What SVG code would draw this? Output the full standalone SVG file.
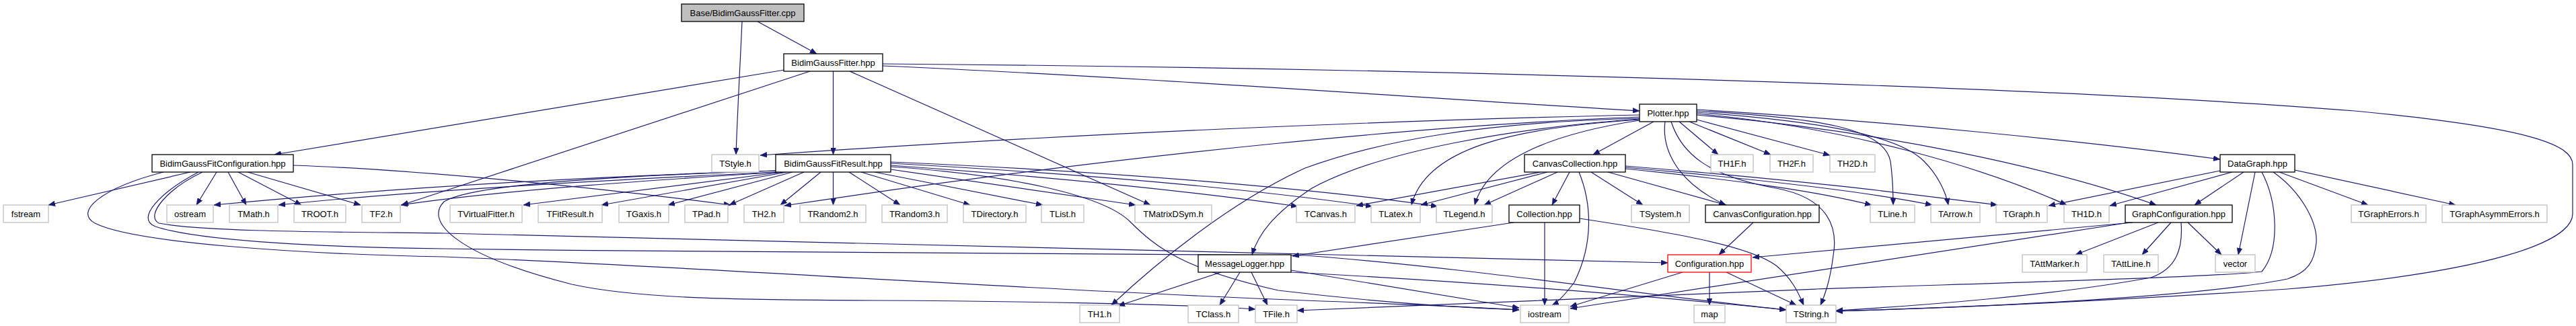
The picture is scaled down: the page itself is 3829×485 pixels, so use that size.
<svg xmlns="http://www.w3.org/2000/svg" width="3829" height="485" viewBox="0 0 3829 485">
<style>
text{font-family:"Liberation Sans",Arial,sans-serif;font-size:13px;fill:#000;text-anchor:middle}
rect.h{fill:#fff;stroke:#000;stroke-width:1.3}
rect.x{fill:#fff;stroke:#bfbfbf;stroke-width:1.3}
rect.r{fill:#fff;stroke:#f00;stroke-width:1.3}
rect.s{fill:#bfbfbf;stroke:#000;stroke-width:1.3}
#edges path{fill:none;stroke:#191970;stroke-width:1.2;marker-end:url(#ah)}
</style>
<defs>
<marker id="ah" viewBox="0 0 10 8" markerWidth="10" markerHeight="8" refX="10" refY="4" orient="auto" markerUnits="userSpaceOnUse">
<path d="M0,0 L10,4 L0,8 Z" fill="#191970" stroke="#191970" stroke-width="0.5"/>
</marker>
</defs>
<rect width="3829" height="485" fill="#fff"/>
<g id="edges">
<path d="M1126,32 L1214,80"/>
<path d="M1103,32 C1100,100 1096,170 1094,230"/>
<path d="M1166,104 L408,230"/>
<path d="M1204,106 L597,305"/>
<path d="M1238.5,106 L1238.5,230"/>
<path d="M1263,106 L1710,305"/>
<path d="M1312,98 C1700,115 2100,145 2437,165"/>
<path d="M1312,95 C2000,100 3000,125 3500,165 C3760,190 3824,215 3824,245 L3824,318 C3824,360 3700,405 3400,430 C3100,450 2900,458 2729,463"/>
<path d="M283,256 L72,305"/>
<path d="M322,256 L292,305"/>
<path d="M339,256 L366,305"/>
<path d="M354,256 L448,305"/>
<path d="M368,256 L536,305"/>
<path d="M436,246 C560,250 800,268 1086,305"/>
<path d="M243,256 C150,280 110,315 141,332 C200,362 450,378 660,382 C1000,395 1500,430 1940,447 C2100,453 2200,457 2258,461"/>
<path d="M301,256 C250,280 215,320 236,332 C300,345 500,345 660,347 C1200,360 1800,372 2479,391"/>
<path d="M295,256 C240,285 200,325 231,337 C300,360 500,368 660,370 C1200,378 1800,375 1940,380 C2200,400 2450,440 2655,461"/>
<path d="M1153,254 C900,262 600,278 318,305"/>
<path d="M1155,256 C900,268 600,285 414,305"/>
<path d="M1160,256 C1000,266 750,282 596,305"/>
<path d="M1164,256 L778,305"/>
<path d="M1170,256 L894,305"/>
<path d="M1178,256 L993,305"/>
<path d="M1195,256 L1084,305"/>
<path d="M1220,256 L1160,305"/>
<path d="M1238.5,256 L1238.5,305"/>
<path d="M1262,256 L1338,305"/>
<path d="M1280,256 L1442,305"/>
<path d="M1300,256 L1550,305"/>
<path d="M1324,252 L1688,305"/>
<path d="M1324,246 C1550,262 1750,282 1929,307"/>
<path d="M1324,243 C1600,258 1850,280 2040,307"/>
<path d="M1324,241 C1650,255 1950,280 2137,307"/>
<path d="M1324,248 C1500,260 1640,290 1680,330 C1720,370 1760,400 1900,432 C2050,450 2180,458 2258,461"/>
<path d="M1154,254 C900,262 700,275 660,300 C630,330 680,380 850,423 C950,445 1100,446 1300,447 C1500,448 1750,452 1866,460"/>
<path d="M2437,171 C2100,178 1600,198 1130,231"/>
<path d="M2437,174 C2150,185 1700,225 1166,306"/>
<path d="M2437,176 C2200,182 2050,210 1940,250 C1830,300 1720,390 1652,454"/>
<path d="M2437,177 C2250,190 2050,225 1950,280 C1890,320 1870,350 1861,379"/>
<path d="M2437,178 C2250,190 2120,220 2098,305"/>
<path d="M2437,179 C2300,200 2210,240 2192,305"/>
<path d="M2458,181 L2368,230"/>
<path d="M2496,181 L2554,230"/>
<path d="M2511,181 L2632,230"/>
<path d="M2522,178 L2720,231"/>
<path d="M2475,181 C2470,220 2490,270 2565,305"/>
<path d="M2484,181 C2500,230 2540,262 2640,280 C2720,295 2732,340 2725,380 C2720,420 2712,440 2706,454"/>
<path d="M2522,165 C2700,175 2800,190 2810,240 C2814,270 2814,290 2814,305"/>
<path d="M2522,167 C2700,180 2820,200 2860,240 C2880,260 2892,285 2896,305"/>
<path d="M2522,169 C2750,190 2950,250 3072,305"/>
<path d="M2522,171 C2800,195 3050,250 3205,305"/>
<path d="M2522,163 C2800,180 3100,210 3300,237"/>
<path d="M2290,256 L2016,306"/>
<path d="M2300,256 L2112,305"/>
<path d="M2315,256 L2206,305"/>
<path d="M2333,256 L2307,305"/>
<path d="M2365,256 L2442,305"/>
<path d="M2390,256 L2566,305"/>
<path d="M2347,256 C2365,300 2370,360 2340,420 C2325,440 2315,450 2307,454"/>
<path d="M2416,251 C2600,270 2700,285 2782,305"/>
<path d="M2416,249 C2650,270 2800,290 2872,305"/>
<path d="M2416,247 C2700,270 2850,290 2969,305"/>
<path d="M2250,331 L1921,381"/>
<path d="M2296,331 L2296,454"/>
<path d="M2348,325 C2480,345 2600,365 2640,395 C2665,415 2675,440 2681,454"/>
<path d="M2606,331 L2555,379"/>
<path d="M2541,405 L2541,454"/>
<path d="M2566,405 L2670,454"/>
<path d="M2501,405 L2334,456"/>
<path d="M1815,405 L1662,455"/>
<path d="M1843,405 L1813,454"/>
<path d="M1860,405 L1884,454"/>
<path d="M1919,402 L2258,458"/>
<path d="M1919,405 C2200,420 2450,440 2655,461"/>
<path d="M3300,254 L3045,306"/>
<path d="M3318,256 L3136,306"/>
<path d="M3335,256 L3262,305"/>
<path d="M3352,256 L3327,379"/>
<path d="M3362,256 C3385,300 3390,370 3362,404 C3300,412 3000,420 2700,430 C2400,440 2100,455 1928,462"/>
<path d="M3379,256 C3420,285 3445,330 3443,361 C3440,390 3430,405 3400,415 C3250,445 2900,458 2729,463"/>
<path d="M3388,256 L3520,305"/>
<path d="M3411,253 L3650,305"/>
<path d="M3170,331 L2605,383"/>
<path d="M3165,331 L2334,459"/>
<path d="M3208,331 L3085,379"/>
<path d="M3227,331 L3184,379"/>
<path d="M3252,331 L3302,379"/>
<path d="M3242,331 C3245,370 3235,400 3197,413 C3050,440 2850,455 2729,462"/>
</g>
<g id="n_cpp"><rect class="s" x="1013" y="6" width="182" height="26"/><text x="1104" y="23.5">Base/BidimGaussFitter.cpp</text></g>
<g id="n_bgf"><rect class="h" x="1165" y="80" width="147" height="26"/><text x="1238.5" y="97.5">BidimGaussFitter.hpp</text></g>
<g id="n_plotter"><rect class="h" x="2437" y="155" width="85" height="26"/><text x="2479.5" y="172.5">Plotter.hpp</text></g>
<g id="n_bgfc"><rect class="h" x="226" y="230" width="210" height="26"/><text x="331" y="247.5">BidimGaussFitConfiguration.hpp</text></g>
<g id="n_tstyle"><rect class="x" x="1058" y="230" width="70" height="26"/><text x="1093" y="247.5">TStyle.h</text></g>
<g id="n_bgfr"><rect class="h" x="1153" y="230" width="171" height="26"/><text x="1238.5" y="247.5">BidimGaussFitResult.hpp</text></g>
<g id="n_cc"><rect class="h" x="2266" y="230" width="150" height="26"/><text x="2341" y="247.5">CanvasCollection.hpp</text></g>
<g id="n_th1f"><rect class="x" x="2543" y="230" width="63" height="26"/><text x="2574.5" y="247.5">TH1F.h</text></g>
<g id="n_th2f"><rect class="x" x="2631" y="230" width="64" height="26"/><text x="2663" y="247.5">TH2F.h</text></g>
<g id="n_th2d"><rect class="x" x="2720" y="230" width="67" height="26"/><text x="2753.5" y="247.5">TH2D.h</text></g>
<g id="n_datagraph"><rect class="h" x="3300" y="230" width="111" height="26"/><text x="3355.5" y="247.5">DataGraph.hpp</text></g>
<g id="n_fstream"><rect class="x" x="5" y="305" width="67" height="26"/><text x="38.5" y="322.5">fstream</text></g>
<g id="n_ostream"><rect class="x" x="248" y="305" width="69" height="26"/><text x="282.5" y="322.5">ostream</text></g>
<g id="n_tmath"><rect class="x" x="341" y="305" width="72" height="26"/><text x="377" y="322.5">TMath.h</text></g>
<g id="n_troot"><rect class="x" x="437" y="305" width="77" height="26"/><text x="475.5" y="322.5">TROOT.h</text></g>
<g id="n_tf2"><rect class="x" x="538" y="305" width="57" height="26"/><text x="566.5" y="322.5">TF2.h</text></g>
<g id="n_tvf"><rect class="x" x="669" y="305" width="107" height="26"/><text x="722.5" y="322.5">TVirtualFitter.h</text></g>
<g id="n_tfr"><rect class="x" x="800" y="305" width="95" height="26"/><text x="847.5" y="322.5">TFitResult.h</text></g>
<g id="n_tgaxis"><rect class="x" x="920" y="305" width="74" height="26"/><text x="957" y="322.5">TGaxis.h</text></g>
<g id="n_tpad"><rect class="x" x="1018" y="305" width="64" height="26"/><text x="1050" y="322.5">TPad.h</text></g>
<g id="n_th2"><rect class="x" x="1106" y="305" width="59" height="26"/><text x="1135.5" y="322.5">TH2.h</text></g>
<g id="n_trandom2"><rect class="x" x="1189" y="305" width="98" height="26"/><text x="1238" y="322.5">TRandom2.h</text></g>
<g id="n_trandom3"><rect class="x" x="1311" y="305" width="97" height="26"/><text x="1359.5" y="322.5">TRandom3.h</text></g>
<g id="n_tdirectory"><rect class="x" x="1432" y="305" width="93" height="26"/><text x="1478.5" y="322.5">TDirectory.h</text></g>
<g id="n_tlist"><rect class="x" x="1548" y="305" width="63" height="26"/><text x="1579.5" y="322.5">TList.h</text></g>
<g id="n_tmatrix"><rect class="x" x="1687" y="305" width="114" height="26"/><text x="1744" y="322.5">TMatrixDSym.h</text></g>
<g id="n_tcanvas"><rect class="x" x="1927" y="305" width="87" height="26"/><text x="1970.5" y="322.5">TCanvas.h</text></g>
<g id="n_tlatex"><rect class="x" x="2038" y="305" width="73" height="26"/><text x="2074.5" y="322.5">TLatex.h</text></g>
<g id="n_tlegend"><rect class="x" x="2135" y="305" width="83" height="26"/><text x="2176.5" y="322.5">TLegend.h</text></g>
<g id="n_collection"><rect class="h" x="2243" y="305" width="105" height="26"/><text x="2295.5" y="322.5">Collection.hpp</text></g>
<g id="n_tsystem"><rect class="x" x="2425" y="305" width="86" height="26"/><text x="2468" y="322.5">TSystem.h</text></g>
<g id="n_canvasconf"><rect class="h" x="2535" y="305" width="169" height="26"/><text x="2619.5" y="322.5">CanvasConfiguration.hpp</text></g>
<g id="n_tline"><rect class="x" x="2780" y="305" width="66" height="26"/><text x="2813" y="322.5">TLine.h</text></g>
<g id="n_tarrow"><rect class="x" x="2870" y="305" width="73" height="26"/><text x="2906.5" y="322.5">TArrow.h</text></g>
<g id="n_tgraph"><rect class="x" x="2967" y="305" width="76" height="26"/><text x="3005" y="322.5">TGraph.h</text></g>
<g id="n_th1d"><rect class="x" x="3068" y="305" width="67" height="26"/><text x="3101.5" y="322.5">TH1D.h</text></g>
<g id="n_graphconf"><rect class="h" x="3159" y="305" width="159" height="26"/><text x="3238.5" y="322.5">GraphConfiguration.hpp</text></g>
<g id="n_tgrapherrors"><rect class="x" x="3495" y="305" width="111" height="26"/><text x="3550.5" y="322.5">TGraphErrors.h</text></g>
<g id="n_tgraphasymm"><rect class="x" x="3630" y="305" width="156" height="26"/><text x="3708" y="322.5">TGraphAsymmErrors.h</text></g>
<g id="n_msglogger"><rect class="h" x="1781" y="379" width="138" height="26"/><text x="1850" y="396.5">MessageLogger.hpp</text></g>
<g id="n_configuration"><rect class="r" x="2479" y="379" width="124" height="26"/><text x="2541" y="396.5">Configuration.hpp</text></g>
<g id="n_tattmarker"><rect class="x" x="3006" y="379" width="96" height="26"/><text x="3054" y="396.5">TAttMarker.h</text></g>
<g id="n_tattline"><rect class="x" x="3127" y="379" width="81" height="26"/><text x="3167.5" y="396.5">TAttLine.h</text></g>
<g id="n_vector"><rect class="x" x="3293" y="379" width="59" height="26"/><text x="3322.5" y="396.5">vector</text></g>
<g id="n_th1"><rect class="x" x="1605" y="454" width="59" height="26"/><text x="1634.5" y="471.5">TH1.h</text></g>
<g id="n_tclass"><rect class="x" x="1766" y="454" width="75" height="26"/><text x="1803.5" y="471.5">TClass.h</text></g>
<g id="n_tfile"><rect class="x" x="1866" y="454" width="62" height="26"/><text x="1897" y="471.5">TFile.h</text></g>
<g id="n_iostream"><rect class="x" x="2260" y="454" width="72" height="26"/><text x="2296" y="471.5">iostream</text></g>
<g id="n_map"><rect class="x" x="2518" y="454" width="46" height="26"/><text x="2541" y="471.5">map</text></g>
<g id="n_tstring"><rect class="x" x="2655" y="454" width="74" height="26"/><text x="2692" y="471.5">TString.h</text></g>
</svg>
